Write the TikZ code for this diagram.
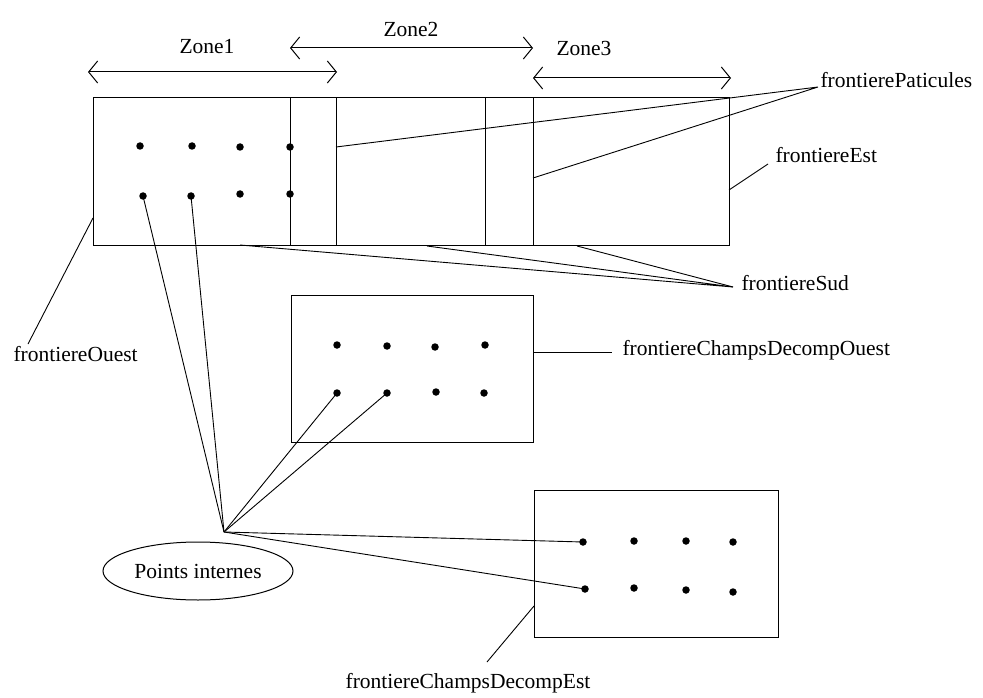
\documentclass[tikz,border=0pt]{standalone}
\usepackage{fontspec}
\setmainfont{Liberation Serif}
\usetikzlibrary{arrows.meta,shapes.geometric}
\begin{document}
\begin{tikzpicture}[x=1pt,y=-1pt,
  line width=1pt,
  lbl/.style={inner sep=0pt,font=\fontsize{21.5}{24}\selectfont},
  pt/.style={circle,fill=black,inner sep=0pt,minimum size=7.5pt},
  span/.style={{Straight Barb[length=9pt,width=22pt]}-{Straight Barb[length=9pt,width=22pt]}},
  lead/.style={line width=0.9pt}]
\useasboundingbox (0,0) rectangle (983,698);

% --- decomposed domain (three zones) ---
\draw (93,98) rectangle (729,245);
\foreach \x in {290,336,485,533} \draw (\x,98) -- (\x,245);
\coordinate (ow) at (93,218);
\coordinate (es) at (729,190);
\coordinate (z2l) at (336,147);
\coordinate (z3l) at (533,178);
\coordinate (s1) at (240,245);
\coordinate (s2) at (427,246);
\coordinate (s3) at (577,246);

\node[pt] (a1) at (140,146) {};
\node[pt] (a2) at (192,146) {};
\node[pt] (a3) at (240,147) {};
\node[pt] (a4) at (290,147) {};
\node[pt] (a5) at (143,196) {};
\node[pt] (a6) at (191,196) {};
\node[pt] (a7) at (240,194) {};
\node[pt] (a8) at (290,194) {};

% --- zone extents ---
\coordinate (z1a) at (88,72);  \coordinate (z1b) at (337,72);
\coordinate (z2a) at (290,48); \coordinate (z2b) at (533,48);
\coordinate (z3a) at (533,78); \coordinate (z3b) at (731,78);
\draw[span] (z1a) -- (z1b);
\draw[span] (z2a) -- (z2b);
\draw[span] (z3a) -- (z3b);
\node[lbl] (zone1) at (207,47) {Zone1};
\node[lbl] (zone2) at (411,29) {Zone2};
\node[lbl] (zone3) at (584,48) {Zone3};

% --- west subdomain ---
\draw (291,295) rectangle (533,442);
\node[pt] (b1) at (337,345) {};
\node[pt] (b2) at (387,346) {};
\node[pt] (b3) at (435,347) {};
\node[pt] (b4) at (485,345) {};
\node[pt] (b5) at (337,393) {};
\node[pt] (b6) at (387,393) {};
\node[pt] (b7) at (436,392) {};
\node[pt] (b8) at (484,393) {};
\coordinate (wo) at (533,352);

% --- east subdomain ---
\draw (534,490) rectangle (778,637);
\node[pt] (c1) at (583,542) {};
\node[pt] (c2) at (634,541) {};
\node[pt] (c3) at (686,541) {};
\node[pt] (c4) at (733,542) {};
\node[pt] (c5) at (585,589) {};
\node[pt] (c6) at (634,588) {};
\node[pt] (c7) at (686,590) {};
\node[pt] (c8) at (733,592) {};
\coordinate (ee) at (534,606);

% --- boundary labels ---
\node[lbl,anchor=west] (fp) at (820,80) {frontierePaticules};
\coordinate (fpj) at (818,87);
\node[lbl,anchor=west] (fe) at (775,155) {frontiereEst};
\coordinate (fej) at (768,164);
\node[lbl,anchor=west] (fs) at (741,283) {frontiereSud};
\coordinate (fsj) at (733,287);
\node[lbl,anchor=west] (fo) at (13,354) {frontiereOuest};
\coordinate (foj) at (28,344);
\node[lbl,anchor=west] (fco) at (622,350) {frontiereChampsDecompOuest};
\coordinate (fcoj) at (612,352);
\node[lbl] (fce) at (468,683) {frontiereChampsDecompEst};
\coordinate (fcej) at (487,662);

\draw[lead] (z2l) -- (fpj) -- (z3l);
\draw[lead] (es) -- (fej);
\draw[lead] (s1) -- (fsj) -- (s2);
\draw[lead] (s3) -- (fsj);
\draw[lead] (ow) -- (foj);
\draw[lead] (wo) -- (fcoj);
\draw[lead] (ee) -- (fcej);

% --- internal points ---
\node[ellipse,draw,minimum width=190pt,minimum height=58pt,inner sep=0pt,
      font=\fontsize{21.5}{24}\selectfont] (pi) at (198,571) {Points internes};
\coordinate (pij) at (224,532);
\foreach \d in {a5,a6,b5,b6,c1,c5} \draw[lead] (pij) -- (\d.center);
\end{tikzpicture}
\end{document}
